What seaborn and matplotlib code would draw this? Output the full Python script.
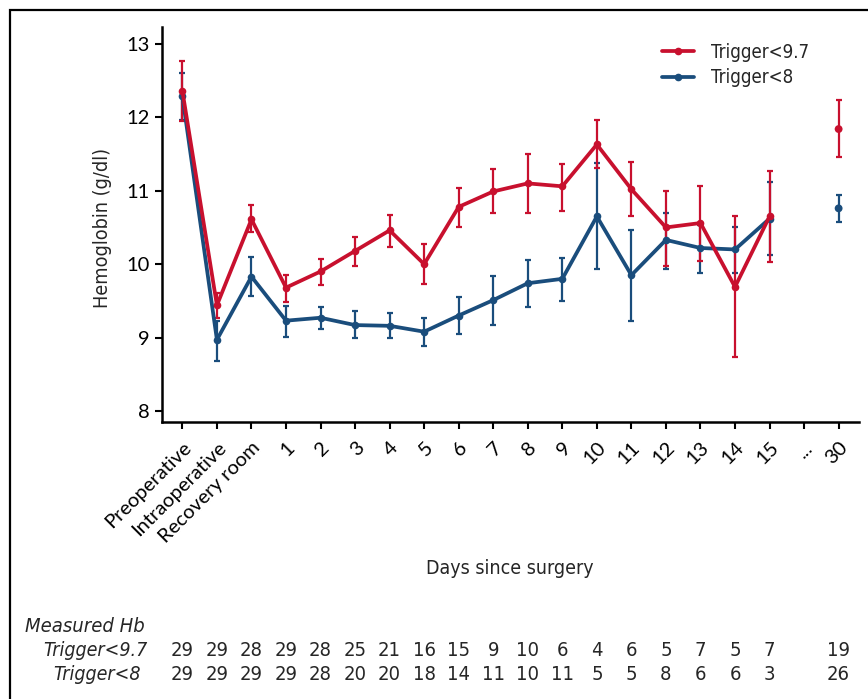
import matplotlib
matplotlib.use("Agg")
import matplotlib.pyplot as plt
import matplotlib.transforms as mtransforms
from matplotlib import font_manager as fm
from matplotlib.lines import Line2D
from matplotlib.patches import Rectangle
import numpy as np
import pandas as pd
import seaborn as sns

# ---- data ----
categories = ["Preoperative", "Intraoperative", "Recovery room", "1", "2", "3", "4", "5",
              "6", "7", "8", "9", "10", "11", "12", "13", "14", "15", "...", "30"]
series_names = ["Trigger<9.7", "Trigger<8"]

red_mean = [12.36, 9.44, 10.61, 9.68, 9.90, 10.18, 10.46, 10.00, 10.78, 10.99, 11.10, 11.06,
            11.63, 11.02, 10.50, 10.56, 9.69, 10.65, None, 11.84]
red_lo = [11.95, 9.27, 10.44, 9.49, 9.72, 9.97, 10.24, 9.73, 10.51, 10.69, 10.69, 10.73,
          11.31, 10.66, 9.98, 10.04, 8.73, 10.03, None, 11.46]
red_hi = [12.77, 9.61, 10.81, 9.85, 10.07, 10.37, 10.67, 10.27, 11.04, 11.29, 11.50, 11.37,
          11.96, 11.39, 11.00, 11.07, 10.65, 11.27, None, 12.23]

blue_mean = [12.29, 8.97, 9.83, 9.23, 9.27, 9.17, 9.16, 9.08, 9.30, 9.51, 9.74, 9.80,
             10.65, 9.85, 10.33, 10.22, 10.20, 10.62, None, 10.76]
blue_lo = [11.96, 8.68, 9.56, 9.01, 9.12, 8.99, 8.99, 8.88, 9.05, 9.17, 9.41, 9.50,
           9.93, 9.23, 9.94, 9.88, 9.88, 10.13, None, 10.58]
blue_hi = [12.61, 9.23, 10.10, 9.43, 9.42, 9.36, 9.33, 9.27, 9.55, 9.84, 10.06, 10.09,
           11.38, 10.47, 10.70, 10.53, 10.50, 11.12, None, 10.94]

n_red = [29, 29, 28, 29, 28, 25, 21, 16, 15, 9, 10, 6, 4, 6, 5, 7, 5, 7, None, 19]
n_blue = [29, 29, 29, 29, 28, 20, 20, 18, 14, 11, 10, 11, 5, 5, 8, 6, 6, 3, None, 26]

yticks = [8, 9, 10, 11, 12, 13]

# ---- style ----
RED = "#C8102E"
BLUE = "#1A4D7C"
sns.set_theme(style="ticks")
plt.rcParams["font.family"] = ["Lato", "DejaVu Sans"]


def condensed_font(size, italic=False):
    """Find an installed condensed / narrow font file; fall back to Lato."""
    want_style = "italic" if italic else "normal"
    prefs = ["Liberation Sans Narrow", "DejaVu Sans", "Open Sans", "Roboto", "Noto Sans"]
    cands = []
    for f in fm.fontManager.ttflist:
        is_cond = ("Narrow" in f.name or "Condensed" in f.name
                   or "condensed" in str(f.stretch) or "Condensed" in f.fname
                   or "Narrow" in f.fname)
        if not is_cond:
            continue
        style_ok = (f.style in ("italic", "oblique")) == italic
        w = f.weight if isinstance(f.weight, int) else 400
        if style_ok and 350 <= w <= 450:
            rank = next((i for i, p in enumerate(prefs) if f.name.startswith(p)), 99)
            cands.append((rank, f.fname))
    if cands:
        cands.sort()
        return fm.FontProperties(fname=cands[0][1], size=size)
    return fm.FontProperties(family="Lato", style=want_style, size=size)


W, H = 868, 699
fig = plt.figure(figsize=(W / 100, H / 100), dpi=100)
ax = fig.add_axes([162 / W, 1 - 422 / H, (859 - 162) / W, (422 - 27) / H])

# build long table
rows = []
for name, mean, lo, hi in [(series_names[0], red_mean, red_lo, red_hi),
                           (series_names[1], blue_mean, blue_lo, blue_hi)]:
    for i, (m, l, h) in enumerate(zip(mean, lo, hi)):
        if m is None:
            continue
        rows.append(dict(group=name, idx=i, seg=("main" if i <= 17 else "late"),
                         value=m, lo=l, hi=h))
df = pd.DataFrame(rows)
palette = {series_names[0]: RED, series_names[1]: BLUE}

main = df[df.seg == "main"]
late = df[df.seg == "late"]

for name in series_names[::-1]:
    d = df[df.group == name]
    ax.errorbar(d.idx, d.value, yerr=[d.value - d.lo, d.hi - d.value], fmt="none",
                ecolor=palette[name], elinewidth=1.6, capsize=2.2, capthick=1.6, zorder=2)

sns.lineplot(data=main, x="idx", y="value", hue="group", palette=palette,
             hue_order=series_names[::-1], marker="o", markersize=5.5,
             markeredgewidth=0, linewidth=2.7, ax=ax, legend=False, zorder=3)
sns.scatterplot(data=late, x="idx", y="value", hue="group", palette=palette,
                s=32, linewidth=0, ax=ax, legend=False, zorder=3)

# axes
ax.set_xlim(-0.59, 19.59)
ax.set_ylim(7.85, 13.23)
ax.set_yticks(yticks)
ax.set_yticklabels([str(t) for t in yticks], fontsize=14.5)
ax.set_xticks(range(len(categories)))
ax.set_xticklabels(categories, rotation=45, ha="right", rotation_mode="anchor", fontsize=14.5)
ax.tick_params(axis="both", direction="out", length=5, width=1.5, color="black",
               labelcolor="black", pad=4)
ax.tick_params(axis="x", pad=7)
for s in ["top", "right"]:
    ax.spines[s].set_visible(False)
for s in ["left", "bottom"]:
    ax.spines[s].set_linewidth(1.8)
    ax.spines[s].set_color("black")
ax.set_xlabel("")
ax.set_ylabel("")
ax.grid(False)

fig.text(103 / W, 1 - 228 / H, "Hemoglobin (g/dl)", rotation=90, ha="center", va="center",
         fontproperties=condensed_font(14.2))
fig.text(510 / W, 1 - 569 / H, "Days since surgery", ha="center", va="center",
         fontproperties=condensed_font(14.0))

# legend
handles = [Line2D([0], [0], color=RED, lw=2.7, marker="o", markersize=4.5),
           Line2D([0], [0], color=BLUE, lw=2.7, marker="o", markersize=4.5)]
fig.legend(handles, series_names, loc="upper left", bbox_to_anchor=(645 / W, 1 - 26 / H),
           frameon=False, prop=condensed_font(13.4), handlelength=1.75, handletextpad=0.92,
           labelspacing=0.36)

# table below
fig.text(25 / W, 1 - 627 / H, "Measured Hb", ha="left", va="center",
         fontproperties=condensed_font(14.5, italic=True))
fig.text(95 / W, 1 - 650 / H, "Trigger<9.7", ha="center", va="center",
         fontproperties=condensed_font(14, italic=True))
fig.text(97 / W, 1 - 674 / H, "Trigger<8", ha="center", va="center",
         fontproperties=condensed_font(14, italic=True))
trans = mtransforms.blended_transform_factory(ax.transData, fig.transFigure)
numfont = condensed_font(14.5)
for i, (a, b) in enumerate(zip(n_red, n_blue)):
    if a is not None:
        fig.text(i, 1 - 650 / H, str(a), ha="center", va="center", transform=trans,
                 fontproperties=numfont)
    if b is not None:
        fig.text(i, 1 - 674 / H, str(b), ha="center", va="center", transform=trans,
                 fontproperties=numfont)

# outer frame (cropped on right/bottom)
fig.patches.append(Rectangle((10 / W, -0.1), 1.2, 1.1 - 10 / H, transform=fig.transFigure,
                             fill=False, edgecolor="black", linewidth=1.6, figure=fig))

fig.savefig("out.png", dpi=100)
